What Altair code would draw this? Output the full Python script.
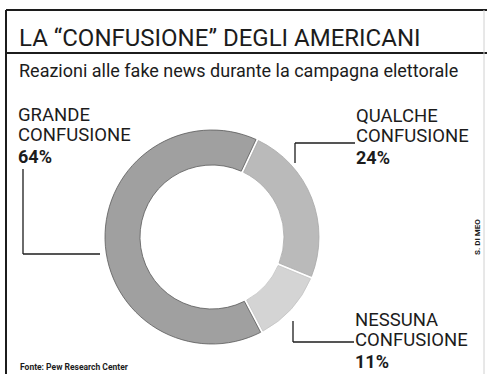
import math
import altair as alt
import pandas as pd

# ---- data ----
categories = ["QUALCHE CONFUSIONE", "NESSUNA CONFUSIONE", "GRANDE CONFUSIONE"]
label_line1 = ["QUALCHE", "NESSUNA", "GRANDE"]
label_line2 = ["CONFUSIONE", "CONFUSIONE", "CONFUSIONE"]
values = [24, 11, 64]
title_text = "LA \u201cCONFUSIONE\u201d DEGLI AMERICANI"
subtitle_text = "Reazioni alle fake news durante la campagna elettorale"
source_text = "Fonte: Pew Research Center"
credit_text = "S. DI MEO"

# ---- styles / layout ----
W, H = 487, 374
FONT = "Roboto"
INK = "#1c1c1c"
fill_colors = ["#bababa", "#d4d4d4", "#a0a0a0"]
stroke_colors = ["#a8a8a8", "#c4c4c4", "#5a5a5a"]
CX, CY = 212, 237
R_OUT, R_IN = 107, 72
START = math.radians(25)

df = pd.DataFrame({
    "cat": categories,
    "value": values,
    "ord": list(range(len(categories))),
})

donut = alt.Chart(df).mark_arc(
    innerRadius=R_IN, outerRadius=R_OUT, padAngle=0.02, strokeWidth=0.8
).encode(
    theta=alt.Theta("value:Q", stack=True,
                    scale=alt.Scale(range=[START, START + 2 * math.pi])),
    color=alt.Color("cat:N", scale=alt.Scale(domain=categories, range=fill_colors), legend=None),
    stroke=alt.Stroke("cat:N", scale=alt.Scale(domain=categories, range=stroke_colors), legend=None),
    order=alt.Order("ord:Q"),
    x=alt.value(CX),
    y=alt.value(CY),
)


def txt(s, x, y, size, weight="normal", color=INK, angle=0, align="left", baseline="alphabetic", line_height=None):
    kw = dict(font=FONT, fontSize=size, fontWeight=weight, color=color, align=align, baseline=baseline)
    if angle:
        kw["angle"] = angle
    if line_height:
        kw["lineHeight"] = line_height
        kw["lineBreak"] = "\n"
    return alt.Chart(pd.DataFrame({"t": [s]})).mark_text(**kw).encode(
        text="t:N", x=alt.value(x), y=alt.value(y))


def rule(x1, y1, x2, y2, width=1.3, color=INK):
    return alt.Chart(pd.DataFrame({"a": [0]})).mark_rule(
        color=color, strokeWidth=width).encode(
        x=alt.value(x1), y=alt.value(y1), x2=alt.value(x2), y2=alt.value(y2))


layers = [donut]

# frame
layers += [
    rule(6, 10, 6, H, width=2),
    rule(6, 10, W, 10, width=2),
    rule(6, 53, W, 53, width=2),
    rule(484, 10, 484, H, width=1, color="#d0d0d0"),
]

# title & subtitle
layers += [
    txt(title_text, 19, 46, 24),
    txt(subtitle_text, 19, 77, 18),
]

# labels: positions for QUALCHE, NESSUNA, GRANDE
label_pos = [(356, 122), (355, 326), (18, 121)]
for i in range(len(categories)):
    x, y = label_pos[i]
    layers.append(txt(label_line1[i] + "\n" + label_line2[i], x, y, 18.5, line_height=20))
    layers.append(txt(f"{values[i]}%", x, y + 42, 18, weight="bold"))

# leader lines
layers += [
    rule(23, 169, 23, 254), rule(23, 254, 100, 254),
    rule(295, 143, 355, 143), rule(295, 143, 295, 163),
    rule(293, 321, 293, 342), rule(293, 342, 354, 342),
]

# source & credit
layers += [
    txt(source_text, 20, 370, 8.5, weight="bold"),
    txt(credit_text, 478, 237, 8, weight="bold", angle=270, align="center", baseline="middle"),
]

chart = alt.layer(*layers).properties(
    width=W, height=H, padding=0, autosize=alt.AutoSizeParams(type="none"),
    background="white",
).configure_view(stroke=None)

chart.save("out.html", embed_options={"renderer": "svg", "actions": False})
